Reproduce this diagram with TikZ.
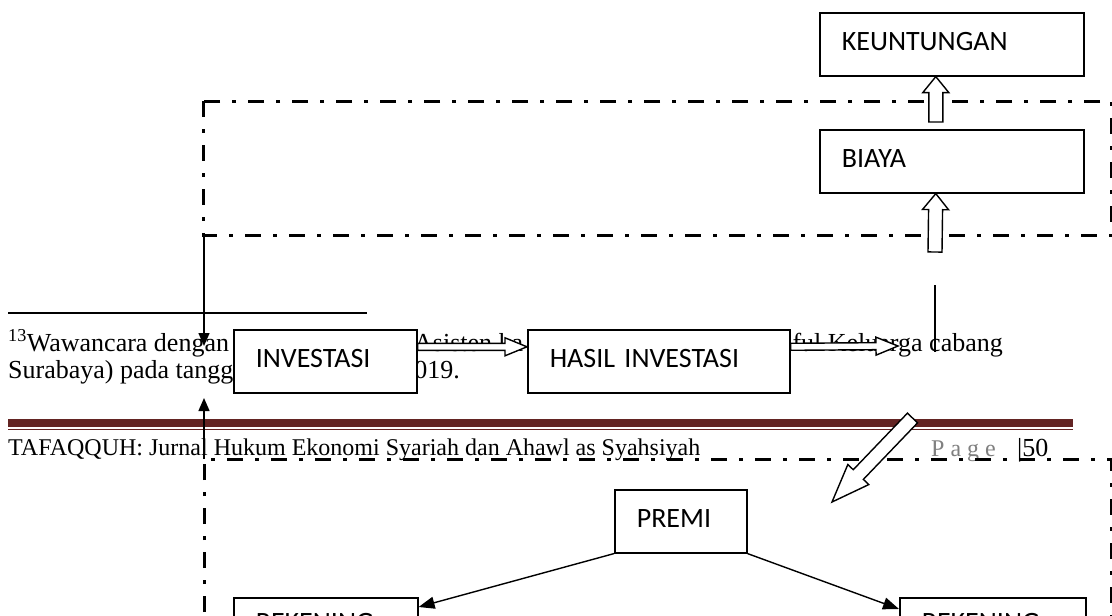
\documentclass[tikz,border=0pt]{standalone}
\usepackage{fontspec}
\setmainfont{Liberation Serif}
\newfontfamily\calibri{Carlito}
\usetikzlibrary{arrows.meta,calc}
\definecolor{marun}{RGB}{99,36,35}
\definecolor{abu}{RGB}{128,128,128}
\newcommand{\panahblok}[5]{%
  \draw[line width=1.4pt,fill=white,line join=miter]
    let \p1=(#1), \p2=(#2), \n1={atan2(\y2-\y1,\x2-\x1)}, \n2={veclen(\x2-\x1,\y2-\y1)} in
    [shift={(\p1)},rotate=\n1]
    (0,-#3) -- ({\n2-#5},-#3) -- ({\n2-#5},-#4) -- (\n2,0) -- ({\n2-#5},#4) -- ({\n2-#5},#3) -- (0,#3) -- cycle;}

\begin{document}
\begin{tikzpicture}[x=1pt,y=-1pt,
    kotak/.style={draw,line width=1.6pt,fill=white,anchor=north west,minimum height=63pt,
      inner xsep=22pt,inner ysep=0pt,align=left,text height=18pt,text depth=6pt,
      font=\calibri\fontsize{28pt}{30pt}\selectfont},
    putus/.style={line width=3pt,dash pattern=on 16pt off 12pt on 4pt off 12pt},
    hubung/.style={line width=1.4pt,-{Triangle[length=13pt,width=11pt]}},
    catatan/.style={anchor=base west,inner sep=0pt,font=\fontsize{26pt}{28pt}\selectfont},
    kaki/.style={anchor=base west,inner sep=0pt,font=\fontsize{24pt}{26pt}\selectfont}]
    \useasboundingbox (0,0) rectangle (1112,616);
    \fill[white] (0,0) rectangle (1112,616);

    \draw[line width=1.5pt] (8,313) -- (367,313);
    \node[catatan] (cat1a) at (8,351) {\textsuperscript{13}Wawancara dengan};
    \node[catatan] (cat1b) at (414,351) {Asisten ka};
    \node[catatan,anchor=base east] (cat1c) at (1003,351) {Takaful Keluarga cabang};
    \node[catatan] (cat2a) at (8,378) {Surabaya) pada tanggal};
    \node[catatan,anchor=base east] (cat2b) at (460,378) {2019.};

    \fill[marun] (8,419) rectangle (1073,427);
    \draw[marun,line width=1.3pt] (8,429.5) -- (1073,429.5);
    \node[kaki] (jurnal) at (8,455) {TAFAQQUH: Jurnal Hukum Ekonomi Syariah dan Ahawl as Syahsiyah};
    \node[kaki,text=abu] (hal) at (931,456) {P a g e};
    \node[kaki,font=\fontsize{26pt}{28pt}\selectfont] (nomor) at (1017,456) {|50};

    \draw[putus] (203,101) rectangle (1111.5,235);
    \draw[putus] (204,700) -- (204,459) -- (1111.5,459) -- (1111.5,700);

    \coordinate (sudutA) at (204,235);
    \coordinate (ujungA) at (204,346);
    \coordinate (sudutB) at (204,459);
    \coordinate (ujungB) at (204,398);
    \draw[hubung] (sudutA) -- (ujungA);
    \draw[hubung] (sudutB) -- (ujungB);

    \node[kotak,text width=220pt] (untung) at (819,12) {KEUNTUNGAN};
    \node[kotak,text width=220pt] (biaya) at (819,129) {BIAYA};
    \node[kotak,text width=139pt] (inv) at (233,329) {INVESTASI};
    \node[kotak,text width=218pt] (hasil) at (527,329) {HASIL INVESTASI};
    \node[kotak,text width=88pt] (premi) at (614,489) {PREMI};
    \node[kotak,text width=140pt,text depth=14pt] (rekA) at (233,597) {REKENING};
    \node[kotak,text width=142pt,text depth=14pt] (rekB) at (899,597) {REKENING};

    \coordinate (ekorC) at (935,252);
    \coordinate (ujungC) at (898,346);
    \coordinate (garisA) at (935,285);
    \coordinate (garisB) at (935,352);
    \coordinate (ekorD) at (912.5,418);
    \coordinate (ujungD) at (832,502);
    \panahblok{[shift={(-16pt,7pt)}]biaya.north}{[xshift=-16pt]untung.south}{7}{13}{16}
    \panahblok{ekorC}{[xshift=-16pt]biaya.south}{7}{13}{16}
    \panahblok{[yshift=14.5pt]inv.east}{[yshift=14.5pt]hasil.west}{3.5}{9}{22}
    \panahblok{[yshift=14.5pt]hasil.east}{ujungC}{3.5}{9}{22}
    \panahblok{ekorD}{ujungD}{7}{14.5}{38}
    \draw[line width=1.5pt] (garisA) -- (garisB);

    \draw[line width=1.4pt,-{Triangle[length=16pt,width=12pt]}] (premi.south west) -- ([yshift=-10pt]rekA.north east);
    \draw[line width=1.4pt,-{Triangle[length=16pt,width=12pt]}] (premi.south east) -- ([yshift=-12pt]rekB.north west);
\end{tikzpicture}
\end{document}
